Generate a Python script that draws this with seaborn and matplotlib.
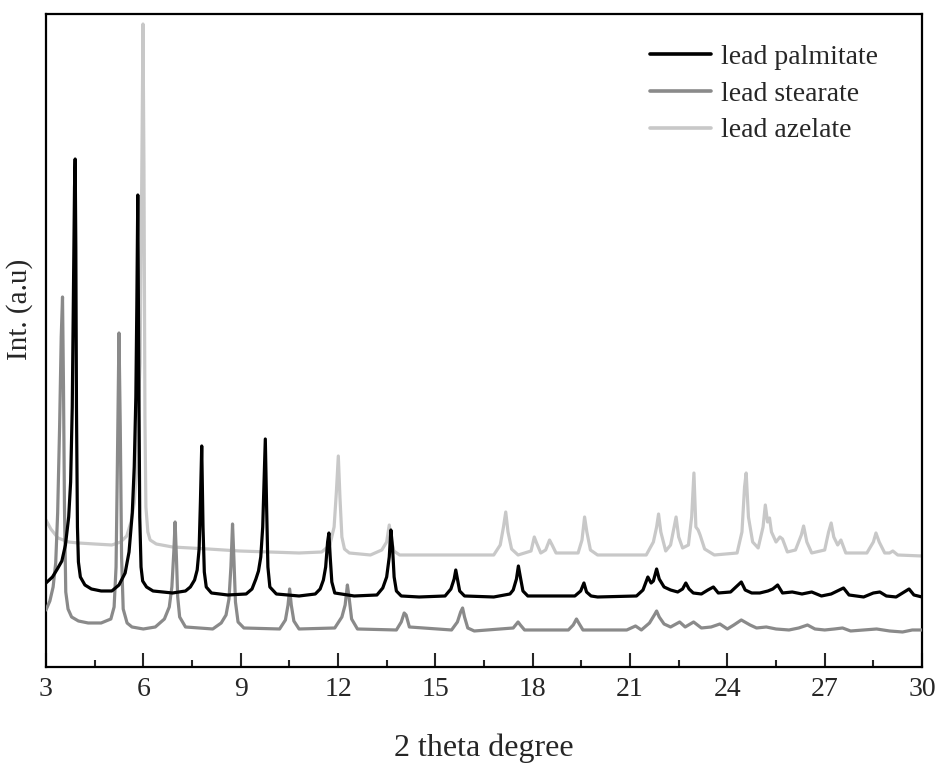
import numpy as np
import pandas as pd
import matplotlib
matplotlib.use("Agg")
import matplotlib.pyplot as plt
import seaborn as sns
from matplotlib.ticker import MultipleLocator

# ---- data (arbitrary intensity units) ----
palmitate_x = [3.00, 3.20, 3.35, 3.49, 3.60, 3.70, 3.76, 3.81, 3.85, 3.88, 3.90, 3.92, 3.94, 3.97, 4.00,
               4.06, 4.20, 4.40, 4.70, 5.03, 5.25, 5.44, 5.56, 5.66, 5.72, 5.77, 5.80, 5.83, 5.86, 5.89,
               5.93, 5.98, 6.10, 6.30, 6.90, 7.30, 7.45, 7.58, 7.66, 7.72, 7.76, 7.80, 7.84, 7.88, 7.94,
               8.10, 8.60, 9.17, 9.35, 9.47, 9.55, 9.62, 9.68, 9.72, 9.76, 9.80, 9.84, 9.90, 10.10, 10.80,
               11.30, 11.45, 11.55, 11.62, 11.68, 11.72, 11.76, 11.81, 11.90, 12.50, 13.20, 13.38, 13.50,
               13.58, 13.63, 13.68, 13.73, 13.80, 13.95, 14.50, 15.30, 15.48, 15.58, 15.63, 15.68, 15.75,
               15.90, 16.80, 17.30, 17.40, 17.50, 17.56, 17.62, 17.70, 17.85, 19.30, 19.48, 19.58, 19.66,
               19.80, 20.00, 21.20, 21.40, 21.55, 21.65, 21.72, 21.82, 21.90, 22.05, 22.25, 22.47, 22.62,
               22.72, 22.82, 22.95, 23.20, 23.40, 23.57, 23.72, 24.10, 24.30, 24.43, 24.55, 24.75, 25.00,
               25.25, 25.40, 25.55, 25.70, 26.00, 26.30, 26.60, 26.90, 27.20, 27.45, 27.58, 27.75, 28.20,
               28.50, 28.70, 28.90, 29.20, 29.45, 29.60, 29.75, 30.00]
palmitate_y = [84, 90, 98, 106, 122, 150, 185, 260, 380, 480, 508, 420, 260, 140, 105,
               90, 82, 78, 76, 76, 82, 94, 115, 154, 200, 270, 360, 472, 300, 150,
               100, 86, 80, 76, 74, 76, 80, 87, 97, 118, 165, 221, 140, 95, 80,
               74, 72, 73, 78, 88, 96, 110, 140, 185, 228, 160, 100, 80, 73, 71,
               73, 78, 87, 100, 125, 134, 110, 85, 74, 71, 72, 79, 90,
               110, 137, 120, 90, 76, 71, 70, 71, 78, 88, 97, 88, 76,
               71, 70, 73, 77, 88, 101, 90, 76, 71, 71, 76, 84, 75,
               71, 70, 71, 77, 90, 84, 86, 98, 88, 80, 77, 75, 78,
               84, 78, 74, 73, 77, 80, 74, 75, 81, 85, 77, 74, 74,
               76, 78, 82, 74, 75, 73, 75, 71, 73, 77, 79, 72, 70,
               74, 75, 71, 70, 75, 78, 72, 70]

stearate_x = [3.00, 3.12, 3.22, 3.30, 3.36, 3.42, 3.47, 3.51, 3.54, 3.57, 3.61, 3.68, 3.79, 4.00, 4.30,
              4.70, 5.00, 5.10, 5.16, 5.20, 5.25, 5.29, 5.33, 5.38, 5.50, 5.65, 6.00, 6.37, 6.65, 6.80,
              6.88, 6.94, 6.98, 7.02, 7.06, 7.12, 7.30, 8.14, 8.40, 8.55, 8.64, 8.70, 8.75, 8.79, 8.84,
              8.92, 9.10, 10.20, 10.38, 10.46, 10.51, 10.56, 10.64, 10.80, 11.90, 12.12, 12.22, 12.29,
              12.34, 12.42, 12.60, 13.80, 13.95, 14.04, 14.10, 14.20, 15.50, 15.68, 15.78, 15.84, 15.90,
              16.00, 16.20, 17.40, 17.55, 17.62, 17.75, 19.10, 19.25, 19.35, 19.42, 19.55, 20.90, 21.17,
              21.35, 21.60, 21.75, 21.82, 21.90, 22.05, 22.25, 22.53, 22.70, 22.96, 23.20, 23.50, 23.77,
              24.00, 24.20, 24.43, 24.70, 24.90, 25.20, 25.50, 25.90, 26.20, 26.47, 26.70, 27.00, 27.30,
              27.55, 27.80, 28.20, 28.60, 29.00, 29.40, 29.70, 30.00]
stearate_y = [57, 66, 80, 104, 154, 240, 330, 370, 280, 160, 75, 58, 50, 46, 44,
              44, 48, 60, 100, 200, 334, 240, 110, 58, 44, 40, 38, 40, 48, 60,
              80, 115, 145, 110, 70, 50, 40, 38, 44, 52, 68, 100, 143, 110, 65,
              45, 39, 38, 47, 62, 78, 62, 46, 38, 39, 50, 62, 82,
              70, 48, 38, 37, 45, 54, 52, 40, 37, 45, 55, 59, 50,
              39, 36, 39, 45, 42, 37, 37, 42, 48, 44, 37, 37, 41,
              37, 44, 52, 56, 50, 43, 40, 45, 40, 45, 39, 40, 43,
              38, 42, 47, 42, 39, 40, 38, 37, 39, 42, 38, 37, 38,
              39, 36, 37, 38, 36, 35, 37, 37]

azelate_x = [3.00, 3.15, 3.37, 3.70, 4.00, 4.50, 5.03, 5.30, 5.49, 5.62, 5.72, 5.80, 5.86, 5.90, 5.95,
             5.99, 6.02, 6.05, 6.08, 6.14, 6.21, 6.40, 6.90, 8.00, 8.96, 10.80, 11.50, 11.75, 11.88, 11.95,
             12.01, 12.06, 12.12, 12.20, 12.35, 13.00, 13.35, 13.50, 13.58, 13.64, 13.72, 13.90, 16.80,
             17.00, 17.10, 17.17, 17.24, 17.35, 17.55, 17.95, 18.05, 18.12, 18.25, 18.40, 18.52, 18.60,
             18.72, 19.40, 19.52, 19.60, 19.67, 19.78, 20.00, 21.50, 21.72, 21.82, 21.88, 21.95, 22.10,
             22.25, 22.36, 22.42, 22.50, 22.62, 22.80, 22.90, 22.97, 23.03, 23.10, 23.16, 23.30, 23.60,
             24.30, 24.45, 24.53, 24.58, 24.65, 24.78, 24.95, 25.10, 25.17, 25.24, 25.30, 25.36, 25.50,
             25.62, 25.70, 25.85, 26.10, 26.28, 26.35, 26.45, 26.60, 27.00, 27.12, 27.20, 27.28, 27.40,
             27.50, 27.65, 28.30, 28.50, 28.58, 28.68, 28.85, 29.00, 29.10, 29.25, 30.00]
azelate_y = [147, 138, 129, 125, 124, 123, 122, 125, 131, 145, 164, 200, 270, 304, 480,
             643, 500, 250, 160, 135, 127, 123, 120, 118, 116, 114, 115, 122, 140, 175,
             211, 170, 130, 118, 114, 112, 117, 125, 142, 128, 116, 112, 112,
             122, 140, 155, 135, 118, 112, 116, 130, 124, 114, 117, 127, 122,
             114, 114, 127, 150, 135, 117, 112, 112, 125, 140, 153, 135, 116,
             122, 140, 150, 130, 119, 122, 150, 194, 140, 137, 132, 118, 112,
             114, 135, 180, 194, 150, 125, 119, 140, 162, 145, 149, 135, 125,
             130, 128, 115, 117, 132, 141, 125, 114, 117, 135, 144, 130, 122,
             127, 114, 114, 125, 134, 125, 114, 114, 116, 112, 111]

series_names = ["lead palmitate", "lead stearate", "lead azelate"]
series_colors = ["#000000", "#8a8a8a", "#c8c8c8"]
x_ticks = [3, 6, 9, 12, 15, 18, 21, 24, 27, 30]

# ---- build long-form table ----
frames = []
for name, xs, ys in zip(series_names,
                        [palmitate_x, stearate_x, azelate_x],
                        [palmitate_y, stearate_y, azelate_y]):
    frames.append(pd.DataFrame({"two_theta": xs, "intensity": ys, "sample": name}))
df = pd.concat(frames, ignore_index=True)

sns.set_style("white")
plt.rcParams["font.family"] = ["Liberation Serif", "DejaVu Serif"]

fig = plt.figure(figsize=(9.42, 7.67), dpi=100)
ax = fig.add_axes([0.0488, 0.1304, 0.9300, 0.8513])

sns.lineplot(data=df, x="two_theta", y="intensity", hue="sample",
             hue_order=series_names, palette=dict(zip(series_names, series_colors)),
             sort=False, estimator=None, linewidth=2.3, ax=ax, legend=True)

# black on top
for ln, z in zip(ax.lines[:3], [4, 3, 2]):
    ln.set_zorder(z)
    ln.set_solid_joinstyle("round")

ax.set_xlim(3, 30)
ax.set_ylim(0, 653)
ax.set_xticks(x_ticks)
ax.set_xticklabels([str(t) for t in x_ticks])
ax.xaxis.set_minor_locator(MultipleLocator(1.5))
ax.set_yticks([])
ax.tick_params(axis="x", which="major", direction="in", length=10, width=1.5,
               labelsize=20, pad=7, bottom=True, top=False)
ax.tick_params(axis="x", which="minor", direction="in", length=5, width=1.5,
               bottom=True, top=False)
for sp in ax.spines.values():
    sp.set_visible(True)
    sp.set_linewidth(1.6)
    sp.set_color("black")

ax.set_xlabel("2 theta degree", fontsize=23, labelpad=23)
ax.set_ylabel("Int. (a.u)", fontsize=21)
ax.yaxis.set_label_coords(-0.0145, 0.548)

leg = ax.legend(loc="upper left", bbox_to_anchor=(0.6895, 0.953), frameon=False,
                fontsize=20, handlelength=2.2, handletextpad=0.35, labelspacing=0.40,
                borderpad=0, borderaxespad=0)
for h in leg.get_lines():
    h.set_linewidth(2.6)

fig.savefig("out.png", dpi=100)
